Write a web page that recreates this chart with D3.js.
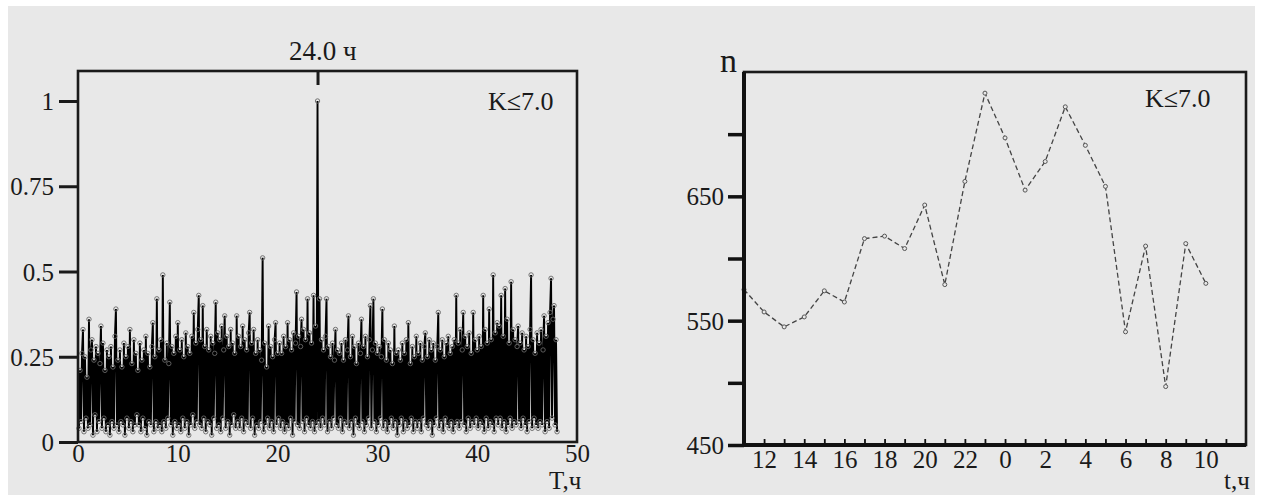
<!DOCTYPE html>
<html>
<head>
<meta charset="utf-8">
<script src="https://cdn.jsdelivr.net/npm/d3@7"></script>
<style>
body { margin: 0; background: #fff; }
svg text { font-family: "Liberation Serif", "Times New Roman", Times, serif !important; fill: #1a1a1a; }
</style>
</head>
<body>
<script>
// left panel: normalised spectrum against period T (h), one value every 0.1 h
const periodStart = 0.1, periodStep = 0.1;
const spectrum = [
  .04,.21,.06,.26,.33,.03,.25,.07,.19,.04,.36,.05,.27,.30,.02,.24,.08,.28,.03,.26,
  .06,.23,.34,.04,.29,.07,.21,.03,.27,.05,.25,.02,.28,.06,.22,.04,.31,.39,.05,.24,
  .03,.27,.06,.22,.05,.29,.02,.25,.07,.28,.04,.33,.06,.23,.03,.30,.05,.26,.08,.21,
  .05,.29,.03,.24,.07,.27,.04,.31,.02,.26,.06,.22,.05,.28,.35,.03,.25,.06,.42,.04,
  .27,.05,.30,.03,.49,.06,.24,.04,.29,.07,.23,.41,.05,.28,.02,.26,.06,.31,.04,.35,
  .05,.27,.03,.30,.07,.25,.04,.32,.06,.28,.02,.26,.05,.31,.08,.38,.04,.29,.06,.33,
  .43,.05,.30,.04,.40,.07,.28,.03,.33,.06,.27,.05,.31,.02,.29,.07,.26,.41,.04,.32,
  .05,.30,.03,.34,.07,.27,.37,.04,.31,.06,.28,.02,.33,.05,.29,.08,.26,.04,.37,.06,
  .31,.04,.28,.07,.34,.03,.30,.06,.27,.05,.32,.38,.04,.29,.07,.33,.02,.26,.05,.30,
  .04,.27,.06,.24,.54,.03,.29,.05,.22,.07,.34,.04,.28,.06,.25,.03,.30,.35,.05,.26,
  .07,.29,.04,.26,.06,.31,.03,.28,.05,.35,.04,.30,.07,.27,.02,.32,.06,.29,.44,.05,
  .31,.04,.28,.36,.06,.33,.03,.30,.07,.42,.05,.32,.04,.29,.06,.43,.03,.34,.05,1.00,
  .06,.42,.04,.30,.07,.27,.05,.31,.42,.03,.28,.06,.25,.04,.29,.07,.24,.33,.05,.27,
  .04,.26,.07,.29,.03,.24,.06,.30,.05,.27,.37,.04,.25,.06,.31,.02,.28,.07,.23,.05,
  .29,.04,.26,.36,.06,.28,.03,.31,.05,.25,.07,.30,.40,.04,.27,.42,.06,.29,.03,.26,
  .05,.28,.07,.25,.39,.04,.30,.06,.24,.03,.29,.05,.27,.07,.23,.04,.34,.06,.26,.02,
  .27,.05,.24,.07,.29,.03,.26,.06,.30,.04,.35,.05,.23,.07,.28,.03,.25,.06,.31,.04,
  .26,.06,.29,.03,.24,.07,.28,.32,.05,.25,.04,.30,.06,.27,.02,.29,.05,.24,.07,.28,
  .38,.04,.27,.06,.30,.03,.25,.07,.29,.05,.31,.04,.26,.06,.28,.03,.30,.05,.43,.06,
  .29,.04,.33,.06,.27,.38,.05,.31,.03,.28,.07,.32,.04,.26,.06,.38,.05,.30,.07,.27,
  .04,.31,.06,.28,.05,.43,.03,.33,.07,.29,.04,.39,.06,.30,.05,.49,.03,.32,.07,.35,
  .05,.34,.07,.43,.04,.31,.06,.45,.03,.36,.05,.29,.07,.47,.04,.33,.06,.30,.05,.28,
  .34,.06,.29,.04,.32,.07,.27,.05,.31,.03,.28,.06,.33,.49,.04,.30,.07,.26,.05,.32,
  .04,.29,.06,.33,.05,.27,.37,.03,.31,.06,.35,.04,.38,.48,.07,.36,.40,.05,.30,.03
];
const leftYTicks = [0, 0.25, 0.5, 0.75, 1];
const leftXTicks = [0, 10, 20, 30, 40, 50];
const peakPeriod = [24];

// right panel: number of events n per hour of day
const hourOfDay = [11,12,13,14,15,16,17,18,19,20,21,22,23,0,1,2,3,4,5,6,7,8,9,10];
const counts = [575,557,545,553,574,565,616,618,608,643,579,662,733,697,655,678,722,691,658,541,610,497,612,580];
const rightYTicks = [450, 500, 550, 600, 650, 700];
const rightYLabels = [450, 550, 650];

const serif = '"Liberation Serif", "Times New Roman", Times, serif';

const svg = d3.select("body").append("svg")
    .attr("width", 1268)
    .attr("height", 495)
    .style("font-family", serif);

svg.append("rect")
    .attr("x", 8).attr("y", 6)
    .attr("width", 1247).attr("height", 489)
    .attr("fill", "#e8e8e8");

function styleText(g, size) {
    g.attr("font-family", serif);
    g.selectAll("text").attr("font-size", size).style("font-family", serif);
}

//---------- left panel
let xL = d3.scaleLinear().domain([0, 50]).range([78, 577]);
let yL = d3.scaleLinear().domain([0, 1]).range([442, 101]);

svg.append("g")
    .attr("transform", "translate(78,0)")
    .call(d3.axisLeft(yL).tickValues(leftYTicks).tickSize(19).tickPadding(5).tickFormat(d3.format("")))
    .call(g => g.select(".domain").remove())
    .call(g => g.selectAll("line").attr("stroke", "#1a1a1a").attr("stroke-width", 3))
    .call(g => styleText(g, 25))
    .call(g => g.selectAll("text").attr("dy", "0.34em"));

svg.append("g")
    .attr("transform", "translate(0,442)")
    .call(d3.axisBottom(xL).tickValues(leftXTicks).tickSize(0).tickPadding(2))
    .call(g => g.select(".domain").remove())
    .call(g => styleText(g, 25));

// marked 24 h peak on the top edge
svg.append("g")
    .attr("transform", "translate(0,71)")
    .call(d3.axisTop(xL).tickValues(peakPeriod).tickSize(-14).tickPadding(11).tickFormat(d => d.toFixed(1) + " ч"))
    .call(g => g.select(".domain").remove())
    .call(g => g.selectAll("line").attr("stroke", "#1a1a1a").attr("stroke-width", 3))
    .call(g => styleText(g, 27))
    .call(g => g.selectAll("text").attr("text-anchor", "start").attr("x", -29).attr("dy", "0em"));

let spectrumLine = d3.line()
    .x((d, i) => xL(periodStart + i * periodStep))
    .y(d => yL(d));

svg.append("path")
    .datum(spectrum)
    .attr("d", spectrumLine)
    .attr("fill", "none")
    .attr("stroke", "#000")
    .attr("stroke-width", 1.9);

svg.append("g").selectAll("circle")
    .data(spectrum)
    .enter()
    .append("circle")
        .attr("cx", (d, i) => xL(periodStart + i * periodStep))
        .attr("cy", d => yL(d))
        .attr("r", 2.2)
        .attr("fill", "none")
        .attr("stroke", "#666")
        .attr("stroke-width", 0.9);

svg.append("rect")
    .attr("x", 78).attr("y", 71)
    .attr("width", 499).attr("height", 371)
    .attr("fill", "none")
    .attr("stroke", "#1a1a1a")
    .attr("stroke-width", 2.6);

svg.append("text")
    .text("K≤7.0")
    .attr("x", 488).attr("y", 110)
    .attr("font-size", 26);

svg.append("text")
    .text("T,ч")
    .attr("x", 549).attr("y", 489)
    .attr("font-size", 25);

//---------- right panel
let xR = d3.scaleLinear().domain([11, 36]).range([744, 1246]);
let yR = d3.scaleLinear().domain([450, 750]).range([445, 72]);
// elapsed hour since the start of the series, used for positions
let elapsed = (d, i) => hourOfDay[0] + i;

svg.append("g")
    .attr("transform", "translate(744,0)")
    .call(d3.axisLeft(yR).tickValues(rightYTicks).tickSize(16).tickPadding(4)
        .tickFormat(d => rightYLabels.includes(d) ? d : ""))
    .call(g => g.select(".domain").remove())
    .call(g => g.selectAll("line").attr("stroke", "#111").attr("stroke-width", 3.5))
    .call(g => styleText(g, 25))
    .call(g => g.selectAll("text").attr("dy", "0.34em"));

svg.append("g")
    .attr("transform", "translate(0,445)")
    .call(d3.axisBottom(xR).tickValues(d3.range(11, 36)).tickSize(-6).tickPadding(5)
        .tickFormat(d => d % 2 === 0 ? d % 24 : ""))
    .call(g => g.select(".domain").remove())
    .call(g => g.selectAll("line").attr("stroke", "#111").attr("stroke-width", 1.8))
    .call(g => styleText(g, 25));

svg.append("path")
    .datum(counts)
    .attr("d", d3.line().x((d, i) => xR(elapsed(d, i))).y(d => yR(d)))
    .attr("fill", "none")
    .attr("stroke", "#444")
    .attr("stroke-width", 1.3)
    .attr("stroke-dasharray", "5,3");

svg.append("g").selectAll("circle")
    .data(counts)
    .enter()
    .append("circle")
        .attr("cx", (d, i) => xR(elapsed(d, i)))
        .attr("cy", d => yR(d))
        .attr("r", 2)
        .attr("fill", "#e8e8e8")
        .attr("stroke", "#555")
        .attr("stroke-width", 1);

// frame: thin top/right, heavy left/bottom
svg.append("rect")
    .attr("x", 744).attr("y", 72)
    .attr("width", 502).attr("height", 373)
    .attr("fill", "none")
    .attr("stroke", "#1a1a1a")
    .attr("stroke-width", 2.6);
svg.append("path")
    .attr("d", "M744,72V445H1246")
    .attr("fill", "none")
    .attr("stroke", "#111")
    .attr("stroke-width", 4);

svg.append("text")
    .text("K≤7.0")
    .attr("x", 1145).attr("y", 107)
    .attr("font-size", 26);

svg.append("text")
    .text("n")
    .attr("x", 720).attr("y", 72)
    .attr("font-size", 34);

svg.append("text")
    .text("t,ч")
    .attr("x", 1224).attr("y", 489)
    .attr("font-size", 25);
</script>
</body>
</html>
